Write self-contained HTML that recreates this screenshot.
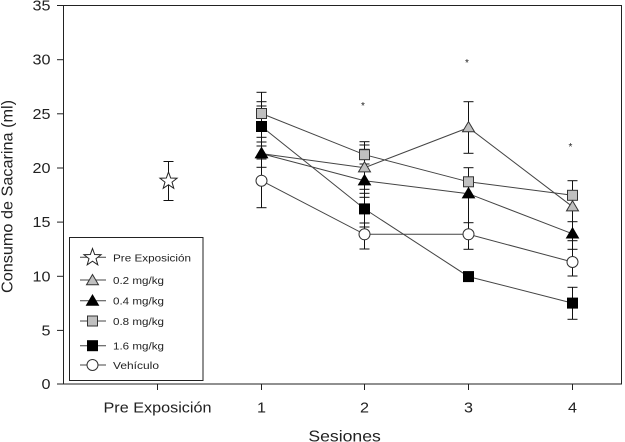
<!DOCTYPE html>
<html><head><meta charset="utf-8"><style>
html,body{margin:0;padding:0;background:#fff;}
svg{display:block;}
text{font-family:"Liberation Sans",Arial,sans-serif;fill:#222;}
</style></head><body>
<svg width="625" height="442" viewBox="0 0 625 442" xmlns="http://www.w3.org/2000/svg">
<defs>
<polygon id="star" points="0,-9 2.175,-2.993 8.56,-2.78 3.519,1.143 5.29,7.28 0,3.7 -5.29,7.28 -3.519,1.143 -8.56,-2.78 -2.175,-2.993" fill="#fff" stroke="#222" stroke-width="1"/>
<polygon id="triG" points="0,-6 6,4.2 -6,4.2" fill="#c0c0c0" stroke="#333" stroke-width="1"/>
<polygon id="triB" points="0,-6 6,4.2 -6,4.2" fill="#000" stroke="#000" stroke-width="1"/>
<rect id="sqG" x="-5" y="-5" width="10" height="10" fill="#c0c0c0" stroke="#333" stroke-width="1"/>
<rect id="sqB" x="-5" y="-5" width="10" height="10" fill="#000" stroke="#000" stroke-width="1"/>
<circle id="circ" r="5.5" fill="#fff" stroke="#333" stroke-width="1"/>
</defs>

<g stroke="#222" stroke-width="1" fill="none">
<rect x="63.5" y="5.5" width="558" height="378.5"/>
<line x1="57" y1="5.5" x2="63.5" y2="5.5"/>
<line x1="57" y1="59.7" x2="63.5" y2="59.7"/>
<line x1="57" y1="113.8" x2="63.5" y2="113.8"/>
<line x1="57" y1="168" x2="63.5" y2="168"/>
<line x1="57" y1="222.1" x2="63.5" y2="222.1"/>
<line x1="57" y1="276.3" x2="63.5" y2="276.3"/>
<line x1="57" y1="330.4" x2="63.5" y2="330.4"/>
<line x1="57" y1="384" x2="63.5" y2="384"/>
<line x1="157.5" y1="384" x2="157.5" y2="390"/>
<line x1="261.5" y1="384" x2="261.5" y2="390"/>
<line x1="364.5" y1="384" x2="364.5" y2="390"/>
<line x1="468.5" y1="384" x2="468.5" y2="390"/>
<line x1="572.5" y1="384" x2="572.5" y2="390"/>
</g>

<g font-size="14.5" text-anchor="end">
<text x="50.5" y="10.5" textLength="18" lengthAdjust="spacingAndGlyphs">35</text>
<text x="50.5" y="64.7" textLength="18" lengthAdjust="spacingAndGlyphs">30</text>
<text x="50.5" y="118.8" textLength="18" lengthAdjust="spacingAndGlyphs">25</text>
<text x="50.5" y="173" textLength="18" lengthAdjust="spacingAndGlyphs">20</text>
<text x="50.5" y="227.1" textLength="18" lengthAdjust="spacingAndGlyphs">15</text>
<text x="50.5" y="281.3" textLength="18" lengthAdjust="spacingAndGlyphs">10</text>
<text x="50.5" y="335.4" textLength="9" lengthAdjust="spacingAndGlyphs">5</text>
<text x="50.5" y="389" textLength="9" lengthAdjust="spacingAndGlyphs">0</text>
</g>
<g font-size="14.5" text-anchor="middle">
<text x="157.5" y="412.5" textLength="108" lengthAdjust="spacingAndGlyphs">Pre Exposición</text>
<text x="261.5" y="412.5" textLength="9" lengthAdjust="spacingAndGlyphs">1</text>
<text x="364.5" y="412.5" textLength="9" lengthAdjust="spacingAndGlyphs">2</text>
<text x="468.5" y="412.5" textLength="9" lengthAdjust="spacingAndGlyphs">3</text>
<text x="572.5" y="412.5" textLength="9" lengthAdjust="spacingAndGlyphs">4</text>
</g>
<g font-size="16" text-anchor="middle">
<text x="344.6" y="441.5" textLength="72.5" lengthAdjust="spacingAndGlyphs">Sesiones</text>
<text transform="translate(12.5,196.5) rotate(-90)" textLength="193" lengthAdjust="spacingAndGlyphs">Consumo de Sacarina (ml)</text>
</g>

<g stroke="#444" stroke-width="1" fill="none">
<polyline points="261.5,153.6 364.5,167.7 468.5,127.6 572.5,206.7"/>
<polyline points="261.5,153.6 364.5,180.7 468.5,193.7 572.5,233.8"/>
<polyline points="261.5,113.5 364.5,154.7 468.5,181.8 572.5,195.3"/>
<polyline points="261.5,126.5 364.5,208.9 468.5,276.6 572.5,303.1"/>
<polyline points="261.5,180.7 364.5,234.3 468.5,234.3 572.5,262"/>
</g>

<g stroke="#111" stroke-width="1" fill="none">
<line x1="168.5" y1="161.5" x2="168.5" y2="200.5"/>
<line x1="163.5" y1="161.5" x2="173.5" y2="161.5"/>
<line x1="163.5" y1="200.5" x2="173.5" y2="200.5"/>

<line x1="261.5" y1="92.3" x2="261.5" y2="207.7"/>
<line x1="256.5" y1="92.3" x2="266.5" y2="92.3"/>
<line x1="256.5" y1="101.7" x2="266.5" y2="101.7"/>
<line x1="256.5" y1="106" x2="266.5" y2="106"/>
<line x1="256.5" y1="137.3" x2="266.5" y2="137.3"/>
<line x1="256.5" y1="142" x2="266.5" y2="142"/>
<line x1="256.5" y1="146" x2="266.5" y2="146"/>
<line x1="256.5" y1="159" x2="266.5" y2="159"/>
<line x1="256.5" y1="167.3" x2="266.5" y2="167.3"/>
<line x1="256.5" y1="207.7" x2="266.5" y2="207.7"/>

<line x1="364.5" y1="141.7" x2="364.5" y2="249"/>
<line x1="359.5" y1="141.7" x2="369.5" y2="141.7"/>
<line x1="359.5" y1="145" x2="369.5" y2="145"/>
<line x1="359.5" y1="149.3" x2="369.5" y2="149.3"/>
<line x1="359.5" y1="164" x2="369.5" y2="164"/>
<line x1="359.5" y1="189.3" x2="369.5" y2="189.3"/>
<line x1="359.5" y1="193.3" x2="369.5" y2="193.3"/>
<line x1="359.5" y1="197.3" x2="369.5" y2="197.3"/>
<line x1="359.5" y1="223" x2="369.5" y2="223"/>
<line x1="359.5" y1="227" x2="369.5" y2="227"/>
<line x1="359.5" y1="249" x2="369.5" y2="249"/>

<line x1="468.5" y1="101.7" x2="468.5" y2="153.3"/>
<line x1="463.5" y1="101.7" x2="473.5" y2="101.7"/>
<line x1="463.5" y1="153.3" x2="473.5" y2="153.3"/>
<line x1="468.5" y1="167.7" x2="468.5" y2="249.3"/>
<line x1="463.5" y1="167.7" x2="473.5" y2="167.7"/>
<line x1="463.5" y1="222.7" x2="473.5" y2="222.7"/>
<line x1="463.5" y1="249.3" x2="473.5" y2="249.3"/>

<line x1="572.5" y1="180.7" x2="572.5" y2="276"/>
<line x1="567.5" y1="180.7" x2="577.5" y2="180.7"/>
<line x1="567.5" y1="221.7" x2="577.5" y2="221.7"/>
<line x1="567.5" y1="240.7" x2="577.5" y2="240.7"/>
<line x1="567.5" y1="249.3" x2="577.5" y2="249.3"/>
<line x1="567.5" y1="276" x2="577.5" y2="276"/>
<line x1="572.5" y1="287.3" x2="572.5" y2="319.3"/>
<line x1="567.5" y1="287.3" x2="577.5" y2="287.3"/>
<line x1="567.5" y1="319.3" x2="577.5" y2="319.3"/>
</g>

<use href="#star" x="168.5" y="181"/>
<use href="#circ" x="261.5" y="180.7"/>
<use href="#circ" x="364.5" y="234.3"/>
<use href="#circ" x="468.5" y="234.3"/>
<use href="#circ" x="572.5" y="262"/>
<use href="#sqB" x="261.5" y="126.5"/>
<use href="#sqB" x="364.5" y="208.9"/>
<use href="#sqB" x="468.5" y="276.6"/>
<use href="#sqB" x="572.5" y="303.1"/>
<use href="#sqG" x="261.5" y="113.5"/>
<use href="#sqG" x="364.5" y="154.7"/>
<use href="#sqG" x="468.5" y="181.8"/>
<use href="#sqG" x="572.5" y="195.3"/>
<use href="#triG" x="261.5" y="153.6"/>
<use href="#triG" x="364.5" y="167.7"/>
<use href="#triG" x="468.5" y="127.6"/>
<use href="#triG" x="572.5" y="206.7"/>
<use href="#triB" x="261.5" y="153.6"/>
<use href="#triB" x="364.5" y="180.7"/>
<use href="#triB" x="468.5" y="193.7"/>
<use href="#triB" x="572.5" y="233.8"/>

<g font-size="10" text-anchor="middle">
<text x="363" y="109">*</text>
<text x="467" y="66">*</text>
<text x="570.5" y="150">*</text>
</g>

<rect x="69.5" y="237.5" width="133.5" height="143" fill="#fff" stroke="#222" stroke-width="1"/>
<g stroke="#444" stroke-width="1">
<line x1="80" y1="257.3" x2="106" y2="257.3"/>
<line x1="80" y1="280" x2="106" y2="280"/>
<line x1="80" y1="300.7" x2="106" y2="300.7"/>
<line x1="80" y1="321" x2="106" y2="321"/>
<line x1="80" y1="345.7" x2="106" y2="345.7"/>
<line x1="80" y1="365" x2="106" y2="365"/>
</g>
<use href="#star" x="92.5" y="257.5"/>
<use href="#triG" x="92.5" y="280.5"/>
<use href="#triB" x="92.5" y="301"/>
<use href="#sqG" x="92.5" y="321"/>
<use href="#sqB" x="92.5" y="345.7"/>
<use href="#circ" x="92.5" y="365"/>
<g font-size="10.5">
<text x="113" y="261.3" textLength="78" lengthAdjust="spacingAndGlyphs">Pre Exposición</text>
<text x="113" y="284" textLength="51" lengthAdjust="spacingAndGlyphs">0.2 mg/kg</text>
<text x="113" y="304.7" textLength="51" lengthAdjust="spacingAndGlyphs">0.4 mg/kg</text>
<text x="113" y="325" textLength="51" lengthAdjust="spacingAndGlyphs">0.8 mg/kg</text>
<text x="113" y="349.7" textLength="51" lengthAdjust="spacingAndGlyphs">1.6 mg/kg</text>
<text x="113" y="369" textLength="46" lengthAdjust="spacingAndGlyphs">Vehículo</text>
</g>
</svg>
</body></html>
